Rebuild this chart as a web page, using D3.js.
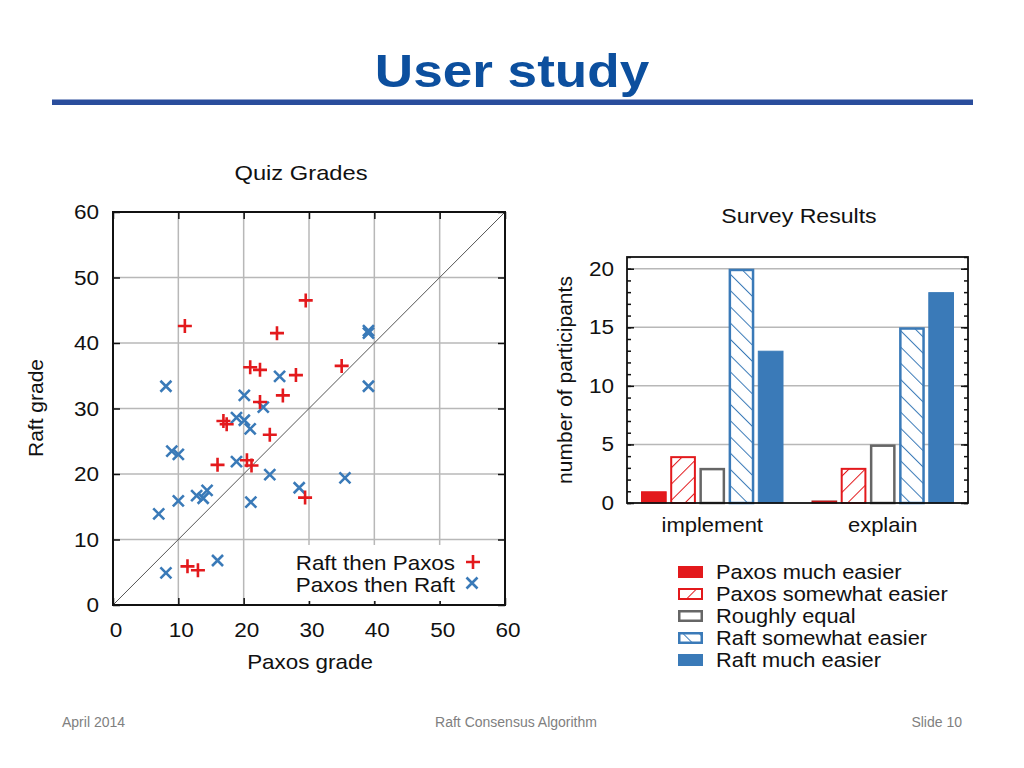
<!DOCTYPE html>
<html>
<head>
<meta charset="utf-8">
<script src="https://cdn.jsdelivr.net/npm/d3@7"></script>
<style>
  html, body { margin: 0; padding: 0; background: #fff; }
  svg { display: block; }
  text { font-family: "Liberation Sans", Arial, sans-serif; }
</style>
</head>
<body>
<svg id="chart" width="1024" height="768"></svg>
<script>
// ---------------- DATA ----------------
const slideTitle = "User study";
const footerLeft = "April 2014";
const footerCenter = "Raft Consensus Algorithm";
const footerRight = "Slide 10";

const quizTitle = "Quiz Grades";
const quizTicks = [0, 10, 20, 30, 40, 50, 60];
const quizXLabel = "Paxos grade";
const quizYLabel = "Raft grade";
const quizSeries = ["Raft then Paxos", "Paxos then Raft"];
// [paxos grade, raft grade]
const raftThenPaxos = [
  [29.5, 46.5], [11.0, 42.6], [25.1, 41.5], [35.0, 36.5], [21.0, 36.3],
  [22.5, 35.9], [28.0, 35.1], [26.0, 32.0], [22.5, 31.0], [16.9, 28.1],
  [17.4, 27.6], [24.0, 26.0], [16.0, 21.4], [20.5, 22.1], [21.2, 21.3],
  [29.4, 16.4], [11.4, 5.9], [13.0, 5.3]
];
const paxosThenRaft = [
  [39.1, 41.9], [39.1, 41.5], [8.1, 33.4], [39.1, 33.4], [25.5, 34.9],
  [20.1, 32.0], [23.0, 30.2], [18.9, 28.6], [20.1, 28.2], [21.0, 26.9],
  [9.0, 23.5], [10.0, 23.0], [18.9, 21.9], [24.0, 19.9], [35.5, 19.4],
  [28.5, 17.9], [10.0, 15.9], [12.8, 16.7], [13.8, 16.3], [14.4, 17.5],
  [21.1, 15.7], [7.0, 13.9], [16.0, 6.8], [8.1, 4.9]
];

const surveyTitle = "Survey Results";
const surveyYLabel = "number of participants";
const surveyCategories = ["implement", "explain"];
const surveyLevels = ["Paxos much easier", "Paxos somewhat easier", "Roughly equal",
                      "Raft somewhat easier", "Raft much easier"];
const implementCounts = [1, 4, 3, 20, 13];
const explainCounts = [0, 3, 5, 15, 18];
const surveyTicks = [0, 5, 10, 15, 20];

// ---------------- STYLE ----------------
const RED = "#e3191c";
const BLUE = "#3a7ab8";
const GRAY = "#666666";
const GRID = "#b8b8b8";
const TITLE_BLUE = "#0c4f9e";

const svg = d3.select("#chart");

function txt(g, x, y, s, o = {}) {
  const tr = `translate(${x},${y})` + (o.rotate ? ` rotate(${o.rotate})` : "") + ` scale(${o.sx || 1},1)`;
  return g.append("text")
    .attr("transform", tr)
    .attr("text-anchor", o.anchor || "start")
    .attr("font-size", o.size || 20)
    .attr("font-weight", o.weight || "normal")
    .attr("font-family", o.family || null)
    .attr("fill", o.fill || "#111")
    .text(s);
}

// ---------------- SLIDE ----------------
txt(svg, 512, 87, slideTitle, { size: 47, weight: "bold", anchor: "middle", fill: TITLE_BLUE,
  family: "'DejaVu Sans', Verdana, sans-serif", sx: 1.13 });
svg.append("rect").attr("x", 52).attr("y", 99.5).attr("width", 921).attr("height", 5.5).attr("fill", "#2a4d9c");

const footFam = "'Liberation Sans Narrow', 'Liberation Sans', Arial, sans-serif";
txt(svg, 62, 727, footerLeft, { size: 14, fill: "#808080", family: footFam });
txt(svg, 516, 727, footerCenter, { size: 14, fill: "#808080", family: footFam, anchor: "middle" });
txt(svg, 962, 727, footerRight, { size: 14, fill: "#808080", family: footFam, anchor: "end" });

// ---------------- SCATTER ----------------
const SX = 1.1;
const sc = svg.append("g");
const x = d3.scaleLinear().domain([0, 60]).range([113, 505]);
const y = d3.scaleLinear().domain([0, 60]).range([605, 212]);

txt(sc, 301, 180, quizTitle, { size: 21, anchor: "middle", sx: 1.13 });

// gridlines
sc.append("g").selectAll("line").data(quizTicks.slice(1, -1)).join("line")
  .attr("x1", d => x(d)).attr("x2", d => x(d)).attr("y1", y(0)).attr("y2", y(60))
  .attr("stroke", GRID).attr("stroke-width", 1.5);
sc.append("g").selectAll("line").data(quizTicks.slice(1, -1)).join("line")
  .attr("y1", d => y(d)).attr("y2", d => y(d)).attr("x1", x(0)).attr("x2", x(60))
  .attr("stroke", GRID).attr("stroke-width", 1.5);

// diagonal
sc.append("line").attr("x1", x(0)).attr("y1", y(0)).attr("x2", x(60)).attr("y2", y(60))
  .attr("stroke", "#555").attr("stroke-width", 1);

// axes (inner ticks on all sides)
const axB = d3.axisBottom(x).tickValues(quizTicks).tickSize(-7).tickFormat("");
const axT = d3.axisTop(x).tickValues(quizTicks).tickSize(-7).tickFormat("");
const axL = d3.axisLeft(y).tickValues(quizTicks).tickSize(-7).tickFormat("");
const axR = d3.axisRight(y).tickValues(quizTicks).tickSize(-7).tickFormat("");
[[axB, `translate(0,${y(0)})`], [axT, `translate(0,${y(60)})`],
 [axL, `translate(${x(0)},0)`], [axR, `translate(${x(60)},0)`]].forEach(([a, t]) => {
  const g = sc.append("g").attr("transform", t).call(a);
  g.select(".domain").remove();
  g.selectAll(".tick line").attr("stroke", "#111").attr("stroke-width", 1.5);
});

// legend box (white backdrop)
sc.append("rect").attr("x", 292).attr("y", 545).attr("width", 200).attr("height", 56).attr("fill", "#fff");

// frame
sc.append("rect").attr("x", x(0)).attr("y", y(60)).attr("width", x(60) - x(0)).attr("height", y(0) - y(60))
  .attr("fill", "none").attr("stroke", "#111").attr("stroke-width", 2);

// tick labels
quizTicks.forEach(t => {
  txt(sc, x(t) + 3, 637, String(t), { size: 20.5, anchor: "middle", sx: SX });
  txt(sc, 99, y(t) + 7, String(t), { size: 20.5, anchor: "end", sx: SX });
});
txt(sc, 310, 669, quizXLabel, { size: 20, anchor: "middle", sx: 1.12 });
txt(sc, 43, 408, quizYLabel, { size: 21, anchor: "middle", rotate: -90 });

// markers
const plusPath = "M-7,0H7M0,-7V7";
const crossPath = "M-5.5,-5.5L5.5,5.5M-5.5,5.5L5.5,-5.5";
sc.append("g").selectAll("path").data(paxosThenRaft).join("path")
  .attr("d", crossPath).attr("transform", d => `translate(${x(d[0])},${y(d[1])})`)
  .attr("stroke", BLUE).attr("stroke-width", 2.6).attr("fill", "none");
sc.append("g").selectAll("path").data(raftThenPaxos).join("path")
  .attr("d", plusPath).attr("transform", d => `translate(${x(d[0])},${y(d[1])})`)
  .attr("stroke", RED).attr("stroke-width", 2.6).attr("fill", "none");

// legend
txt(sc, 455, 570, quizSeries[0], { size: 20, anchor: "end", sx: 1.12 });
txt(sc, 455, 592, quizSeries[1], { size: 20, anchor: "end", sx: 1.12 });
sc.append("path").attr("d", plusPath).attr("transform", "translate(473,562)")
  .attr("stroke", RED).attr("stroke-width", 2.6).attr("fill", "none");
sc.append("path").attr("d", crossPath).attr("transform", "translate(472,583)")
  .attr("stroke", BLUE).attr("stroke-width", 2.6).attr("fill", "none");

// ---------------- BAR CHART ----------------
const bc = svg.append("g");
const defs = svg.append("defs");
function hatch(id, color, angle) {
  const p = defs.append("pattern").attr("id", id).attr("patternUnits", "userSpaceOnUse")
    .attr("width", 11.5).attr("height", 11.5).attr("patternTransform", `rotate(${angle})`);
  p.append("rect").attr("width", 11.5).attr("height", 11.5).attr("fill", "#fff");
  p.append("line").attr("x1", 0).attr("y1", 0).attr("x2", 0).attr("y2", 11.5)
    .attr("stroke", color).attr("stroke-width", 2);
}
hatch("hatchRed", RED, 45);
hatch("hatchBlue", BLUE, -45);

const levelStyle = [
  { fill: RED, stroke: RED, sw: 1 },
  { fill: "url(#hatchRed)", stroke: RED, sw: 2 },
  { fill: "#fff", stroke: GRAY, sw: 2.5 },
  { fill: "url(#hatchBlue)", stroke: BLUE, sw: 2.5 },
  { fill: BLUE, stroke: BLUE, sw: 1 }
];

const bx = d3.scaleBand().domain(surveyCategories).range([627, 968]).padding(0);
const inner = d3.scaleBand().domain(surveyLevels).range([0, 142.5]).paddingInner(0.12).paddingOuter(0);
const by = d3.scaleLinear().domain([0, 21]).range([503, 257]);
const countsByCat = { implement: implementCounts, explain: explainCounts };

txt(bc, 799, 223, surveyTitle, { size: 21, anchor: "middle", sx: 1.1 });

// gridlines
bc.append("g").selectAll("line").data(surveyTicks.slice(1)).join("line")
  .attr("x1", 627).attr("x2", 968).attr("y1", d => by(d)).attr("y2", d => by(d))
  .attr("stroke", GRID).attr("stroke-width", 1.5);

// minor/major ticks both sides
const minor = d3.range(0, 22);
[[d3.axisLeft(by), 627], [d3.axisRight(by), 968]].forEach(([a, xp]) => {
  const gm = bc.append("g").attr("transform", `translate(${xp},0)`)
    .call(a.tickValues(minor).tickSize(-4).tickFormat(""));
  gm.select(".domain").remove();
  gm.selectAll(".tick line").attr("stroke", "#111").attr("stroke-width", 1.5);
});
[[d3.axisLeft(by), 627], [d3.axisRight(by), 968]].forEach(([a, xp]) => {
  const gM = bc.append("g").attr("transform", `translate(${xp},0)`)
    .call(a.tickValues(surveyTicks).tickSize(-7).tickFormat(""));
  gM.select(".domain").remove();
  gM.selectAll(".tick line").attr("stroke", "#111").attr("stroke-width", 1.5);
});

// bars
surveyCategories.forEach(cat => {
  const g0 = bx(cat) + (bx.bandwidth() - 142.5) / 2;
  const data = countsByCat[cat].map((v, i) => ({ v, i, lvl: surveyLevels[i] }));
  bc.append("g").selectAll("rect").data(data).join("rect")
    .attr("x", d => g0 + inner(d.lvl) + levelStyle[d.i].sw / 2)
    .attr("width", d => inner.bandwidth() - levelStyle[d.i].sw)
    .attr("y", d => Math.min(by(d.v), by(0) - 2.5) + levelStyle[d.i].sw / 2)
    .attr("height", d => Math.max(by(0) - by(d.v), 2.5) - levelStyle[d.i].sw / 2)
    .attr("fill", d => levelStyle[d.i].fill)
    .attr("stroke", d => d.v === 0 ? "#a01313" : levelStyle[d.i].stroke)
    .attr("stroke-width", d => levelStyle[d.i].sw);
  txt(bc, bx(cat) + bx.bandwidth() / 2, 532, cat, { size: 20, anchor: "middle", sx: 1.1 });
});

// frame
bc.append("rect").attr("x", 627).attr("y", 257).attr("width", 341).attr("height", 246)
  .attr("fill", "none").attr("stroke", "#111").attr("stroke-width", 1.8);

surveyTicks.forEach(t => txt(bc, 614, by(t) + 7, String(t), { size: 20.5, anchor: "end", sx: 1.1 }));
txt(bc, 572, 380, surveyYLabel, { size: 21, anchor: "middle", rotate: -90 });

// legend
const lg = bc.append("g");
surveyLevels.forEach((lvl, i) => {
  const yy = 566 + i * 22;
  const st = levelStyle[i];
  lg.append("rect").attr("x", 678 + st.sw / 2).attr("y", yy + st.sw / 2)
    .attr("width", 25 - st.sw).attr("height", 12 - st.sw)
    .attr("fill", st.fill).attr("stroke", st.stroke).attr("stroke-width", st.sw);
  txt(lg, 716, yy + 13, lvl, { size: 19.5, sx: 1.12 });
});
</script>
</body>
</html>
